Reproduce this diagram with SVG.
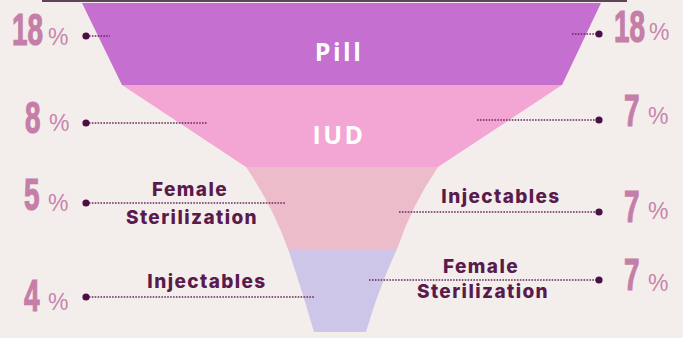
<svg xmlns="http://www.w3.org/2000/svg" width="683" height="338" viewBox="0 0 683 338">
<style>
.num{font-family:"Liberation Sans",Arial,sans-serif;font-weight:bold;font-size:45px;fill:#C47EA8;stroke:#C47EA8;stroke-width:1.2}
.pct{font-family:"Liberation Sans",Arial,sans-serif;font-size:23px;fill:#C885AE}
.band{font-family:"Open Sans","Noto Sans",sans-serif;font-weight:700;font-size:25px;fill:#FFFFFF;letter-spacing:2.5px;text-anchor:middle}
.lbl{font-family:Inter,"Noto Sans",sans-serif;font-weight:800;font-size:19px;fill:#5A1A4C;letter-spacing:1.4px;text-anchor:middle}
.dl{stroke:#6A2A60;stroke-width:1.7;stroke-dasharray:1.6 1.3;fill:none}
.dot{fill:#4B1043}
</style>
<rect width="683" height="338" fill="#F3EEEB"/>
<rect x="42" y="0" width="585" height="2" fill="#5E4456"/>
<g id="pill">
<polygon points="82,3 601,3 562,85 122,85" fill="#C56FD0"/>
<text class="band" x="339" y="61">Pill</text>
</g>
<g id="iud">
<polygon points="122,85 562,85 438,167 246,167" fill="#F3A6D4"/>
<text class="band" x="339" y="144">IUD</text>
</g>
<g id="sterilization">
<path d="M246,167 L438,167 Q412,205 397,249 L288,249 Q272,205 246,167 Z" fill="#EDBCCB"/>
</g>
<g id="injectables">
<path d="M288,249 L397,249 Q378,290 366,332 L314,332 Q302,290 288,249 Z" fill="#CEC6E8"/>
</g>
<g id="connectors">
<line class="dl" x1="86" y1="36" x2="110" y2="36"/>
<line class="dl" x1="86" y1="123" x2="207" y2="123"/>
<line class="dl" x1="86" y1="203" x2="285" y2="203"/>
<line class="dl" x1="86" y1="297" x2="315" y2="297"/>
<line class="dl" x1="572" y1="34" x2="599" y2="34"/>
<line class="dl" x1="477" y1="120" x2="599" y2="120"/>
<line class="dl" x1="399" y1="212" x2="599" y2="212"/>
<line class="dl" x1="369" y1="280" x2="599" y2="280"/>
<circle class="dot" cx="86" cy="36" r="3.6"/>
<circle class="dot" cx="86" cy="123" r="3.6"/>
<circle class="dot" cx="86" cy="203" r="3.6"/>
<circle class="dot" cx="86" cy="297" r="3.6"/>
<circle class="dot" cx="599" cy="34" r="3.6"/>
<circle class="dot" cx="599" cy="120" r="3.6"/>
<circle class="dot" cx="599" cy="212" r="3.6"/>
<circle class="dot" cx="599" cy="280" r="3.6"/>
</g>
<g id="left-values">
<text class="num" transform="translate(12,45) scale(0.62,1)">18</text>
<text class="pct" x="48" y="45">%</text>
<text class="num" transform="translate(25,133) scale(0.62,1)">8</text>
<text class="pct" x="49" y="131">%</text>
<text class="num" transform="translate(24,210) scale(0.62,1)">5</text>
<text class="pct" x="48" y="211">%</text>
<text class="num" transform="translate(24,311) scale(0.62,1)">4</text>
<text class="pct" x="48" y="310">%</text>
</g>
<g id="right-values">
<text class="num" transform="translate(614,42) scale(0.62,1)">18</text>
<text class="pct" x="649" y="40">%</text>
<text class="num" transform="translate(624,126) scale(0.62,1)">7</text>
<text class="pct" x="648" y="124">%</text>
<text class="num" transform="translate(624,222) scale(0.62,1)">7</text>
<text class="pct" x="648" y="219">%</text>
<text class="num" transform="translate(624,290) scale(0.62,1)">7</text>
<text class="pct" x="648" y="291">%</text>
</g>
<g id="labels">
<text class="lbl" x="190" y="196">Female</text>
<text class="lbl" x="192" y="224">Sterilization</text>
<text class="lbl" x="207" y="288">Injectables</text>
<text class="lbl" x="501" y="203">Injectables</text>
<text class="lbl" x="481" y="273">Female</text>
<text class="lbl" x="483" y="298">Sterilization</text>
</g>
</svg>
